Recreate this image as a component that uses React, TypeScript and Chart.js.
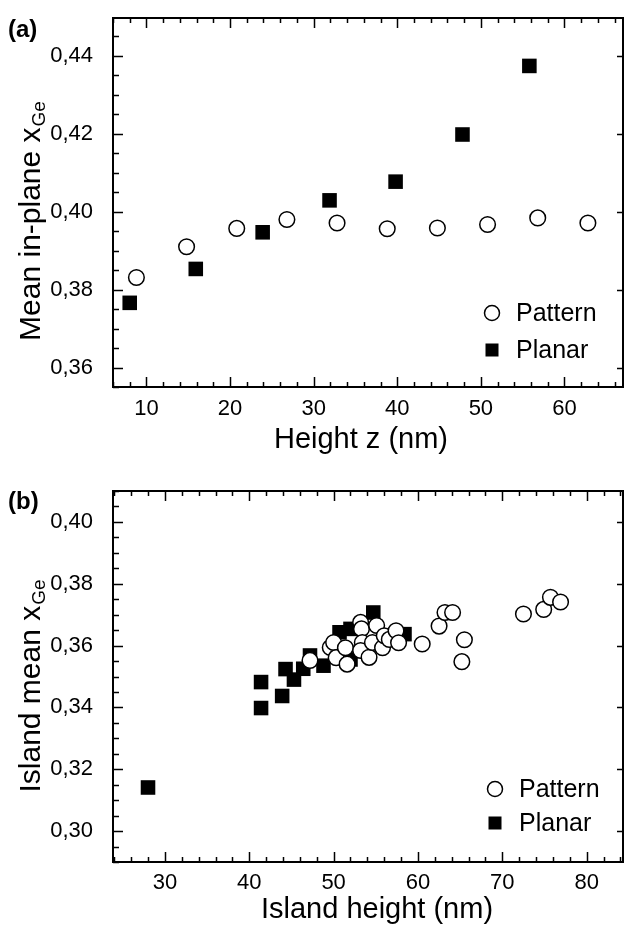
import React, { useEffect, useRef } from "react";
import { Chart, registerables } from "chart.js";
Chart.register(...registerables);

// ---------- Panel (a) data ----------
const aPatternHeight = [8.8, 14.8, 20.8, 26.8, 32.8, 38.8, 44.8, 50.8, 56.8, 62.8];
const aPatternXGe = [0.3831, 0.391, 0.3957, 0.398, 0.3971, 0.3956, 0.3958, 0.3967, 0.3984, 0.3971];
const aPlanarHeight = [8.0, 15.9, 23.9, 31.9, 39.8, 47.8, 55.8];
const aPlanarXGe = [0.3766, 0.3853, 0.3947, 0.4029, 0.4077, 0.4198, 0.4374];
const aXTicks = [10, 20, 30, 40, 50, 60];
const aYTicks = [0.36, 0.38, 0.4, 0.42, 0.44];

// ---------- Panel (b) data ----------
const bPatternHeight = [
  47.2, 49.6, 50.0, 50.3, 51.4, 51.6, 53.2, 53.3, 53.4, 53.2, 54.2, 54.6, 55.1, 55.8,
  56.0, 56.6, 57.4, 57.7, 60.5, 62.5, 63.2, 64.1, 65.5, 65.2, 72.5, 74.9, 75.7, 76.9,
];
const bPatternXGe = [
  0.3552, 0.3594, 0.361, 0.3561, 0.3593, 0.354, 0.3675, 0.3654, 0.361, 0.3584, 0.3562, 0.361,
  0.3665, 0.3593, 0.3632, 0.362, 0.3648, 0.3609, 0.3605, 0.3663, 0.3707, 0.3707, 0.3619, 0.3548,
  0.3702, 0.3717, 0.3756, 0.3741,
];
const bPlanarHeight = [28.0, 41.4, 41.4, 43.9, 44.3, 45.3, 46.4, 47.2, 48.8, 50.7, 52.0, 52.0, 54.7, 58.4];
const bPlanarXGe = [
  0.3141, 0.3482, 0.3398, 0.3437, 0.3524, 0.349, 0.3525, 0.3568, 0.3535, 0.3643, 0.3654, 0.3555,
  0.3707, 0.3637,
];
const bXTicks = [30, 40, 50, 60, 70, 80];
const bYTicks = [0.3, 0.32, 0.34, 0.36, 0.38, 0.4];

const seriesNames = ["Pattern", "Planar"];

const FONT = "'Liberation Sans', Arial, Helvetica, sans-serif";

type Panel = {
  label: string;
  xTitle: string;
  yTitleMain: string;
  yTitleSub: string;
  patternX: number[];
  patternY: number[];
  planarX: number[];
  planarY: number[];
  xTicks: number[];
  yTicks: number[];
  xMin: number;
  xMax: number;
  yMin: number;
  yMax: number;
  xMinor: number;
  yMinor: number;
  canvasH: number;
  padTop: number;
  xAxisH: number;
  xTickPad: number;
  xTitleCX: number;
  xTitleCY: number;
  yTitleCY: number;
  labelY: number;
  legendX: number;
  legendY: number;
  legendGap: number;
};

const panelA: Panel = {
  label: "(a)",
  xTitle: "Height z (nm)",
  yTitleMain: "Mean in-plane x",
  yTitleSub: "Ge",
  patternX: aPatternHeight,
  patternY: aPatternXGe,
  planarX: aPlanarHeight,
  planarY: aPlanarXGe,
  xTicks: aXTicks,
  yTicks: aYTicks,
  xMin: 6,
  xMax: 67,
  yMin: 0.355,
  yMax: 0.4497,
  xMinor: 2,
  yMinor: 0.005,
  canvasH: 465,
  padTop: 18,
  xAxisH: 78,
  xTickPad: 9,
  xTitleCX: 361,
  xTitleCY: 440,
  yTitleCY: 221,
  labelY: 30,
  legendX: 492,
  legendY: 313,
  legendGap: 37,
};

const panelB: Panel = {
  label: "(b)",
  xTitle: "Island height (nm)",
  yTitleMain: "Island mean x",
  yTitleSub: "Ge",
  patternX: bPatternHeight,
  patternY: bPatternXGe,
  planarX: bPlanarHeight,
  planarY: bPlanarXGe,
  xTicks: bXTicks,
  yTicks: bYTicks,
  xMin: 23.85,
  xMax: 84.3,
  yMin: 0.29,
  yMax: 0.41,
  xMinor: 2,
  yMinor: 0.005,
  canvasH: 466,
  padTop: 26,
  xAxisH: 69,
  xTickPad: 8,
  xTitleCX: 377,
  xTitleCY: 445,
  yTitleCY: 221,
  labelY: 37,
  legendX: 495,
  legendY: 324,
  legendGap: 34,
};

function makeDecor(p: Panel) {
  return {
    id: "decor" + p.label,
    afterDraw(chart: any) {
      const { ctx, chartArea: a, scales } = chart;
      const xs = scales.x;
      const ys = scales.y;
      ctx.save();
      ctx.strokeStyle = "#000";
      ctx.fillStyle = "#000";
      // frame
      ctx.lineWidth = 2;
      ctx.strokeRect(a.left, a.top, a.right - a.left, a.bottom - a.top);
      ctx.lineWidth = 1.5;
      ctx.beginPath();
      const isMajor = (v: number, list: number[]) => list.some((t) => Math.abs(t - v) < 1e-6);
      // x ticks (bottom & top)
      const nx = Math.round((p.xMax - p.xMin) / p.xMinor) + 2;
      const x0 = Math.ceil(p.xMin / p.xMinor - 1e-9) * p.xMinor;
      for (let i = 0; i < nx; i++) {
        const v = x0 + i * p.xMinor;
        if (v > p.xMax) break;
        const px = Math.round(xs.getPixelForValue(v)) + 0.5;
        const len = isMajor(v, p.xTicks) ? 10 : 5;
        ctx.moveTo(px, a.bottom);
        ctx.lineTo(px, a.bottom - len);
        ctx.moveTo(px, a.top);
        ctx.lineTo(px, a.top + len);
      }
      // y ticks (left minor+major, right major)
      const ny = Math.round((p.yMax - p.yMin) / p.yMinor) + 2;
      const y0 = Math.ceil(p.yMin / p.yMinor - 1e-9) * p.yMinor;
      for (let i = 0; i < ny; i++) {
        const v = y0 + i * p.yMinor;
        if (v > p.yMax + 1e-9) break;
        const py = Math.round(ys.getPixelForValue(v)) + 0.5;
        const major = isMajor(v, p.yTicks);
        const len = major ? 10 : 6;
        ctx.moveTo(a.left, py);
        ctx.lineTo(a.left + len, py);
        if (major) {
          ctx.moveTo(a.right, py);
          ctx.lineTo(a.right - 6, py);
        }
      }
      ctx.stroke();

      // panel label
      ctx.font = `bold 24px ${FONT}`;
      ctx.textAlign = "left";
      ctx.textBaseline = "middle";
      ctx.fillText(p.label, 8, p.labelY);

      // x title
      ctx.font = `29px ${FONT}`;
      ctx.textAlign = "center";
      ctx.textBaseline = "middle";
      ctx.fillText(p.xTitle, p.xTitleCX, p.xTitleCY);

      // y title with subscript
      const mainFont = `30px ${FONT}`;
      const subFont = `19px ${FONT}`;
      ctx.font = mainFont;
      const wMain = ctx.measureText(p.yTitleMain).width;
      ctx.font = subFont;
      const wSub = ctx.measureText(p.yTitleSub).width;
      const total = wMain + wSub + 1;
      ctx.save();
      ctx.translate(40, p.yTitleCY);
      ctx.rotate(-Math.PI / 2);
      ctx.textAlign = "left";
      ctx.textBaseline = "alphabetic";
      ctx.font = mainFont;
      ctx.fillText(p.yTitleMain, -total / 2, 0);
      ctx.font = subFont;
      ctx.fillText(p.yTitleSub, -total / 2 + wMain + 1, 5);
      ctx.restore();

      // legend
      const lx = p.legendX;
      const ly = p.legendY;
      ctx.lineWidth = 1.5;
      ctx.beginPath();
      ctx.arc(lx, ly, 7.5, 0, Math.PI * 2);
      ctx.fillStyle = "#fff";
      ctx.fill();
      ctx.stroke();
      ctx.fillStyle = "#000";
      ctx.fillRect(lx - 6.5, ly + p.legendGap - 6.5, 13, 13);
      ctx.font = `25px ${FONT}`;
      ctx.textAlign = "left";
      ctx.textBaseline = "middle";
      ctx.fillText(seriesNames[0], lx + 24, ly + 1);
      ctx.fillText(seriesNames[1], lx + 24, ly + p.legendGap + 1);
      ctx.restore();
    },
  };
}

function makeChart(canvas: HTMLCanvasElement, p: Panel) {
  return new Chart(canvas, {
    type: "scatter",
    data: {
      datasets: [
        {
          label: seriesNames[0],
          data: p.patternX.map((x, i) => ({ x, y: p.patternY[i] })),
          pointStyle: "circle",
          pointRadius: 7.8,
          pointHoverRadius: 7.8,
          pointBackgroundColor: "#fff",
          pointBorderColor: "#000",
          pointBorderWidth: 1.5,
        },
        {
          label: seriesNames[1],
          data: p.planarX.map((x, i) => ({ x, y: p.planarY[i] })),
          pointStyle: "rect",
          pointRadius: 10.3,
          pointHoverRadius: 10.3,
          pointBackgroundColor: "#000",
          pointBorderColor: "#000",
          pointBorderWidth: 0,
        },
      ],
    },
    options: {
      animation: false,
      responsive: false,
      devicePixelRatio: 1,
      events: [],
      layout: { autoPadding: false, padding: { left: 0, right: 2, top: p.padTop, bottom: 0 } },
      plugins: { legend: { display: false }, tooltip: { enabled: false } },
      scales: {
        x: {
          type: "linear",
          min: p.xMin,
          max: p.xMax,
          afterBuildTicks: (s: any) => {
            s.ticks = p.xTicks.map((v) => ({ value: v }));
          },
          afterFit: (s: any) => {
            s.height = p.xAxisH;
            s.paddingLeft = 0;
            s.paddingRight = 0;
            s.paddingTop = 0;
            s.paddingBottom = 0;
          },
          grid: { display: false, drawTicks: false },
          border: { display: false },
          ticks: {
            padding: p.xTickPad,
            color: "#000",
            font: { family: FONT, size: 22 },
            maxRotation: 0,
            autoSkip: false,
            callback: (v: any) => String(v),
          },
          title: { display: false },
        },
        y: {
          type: "linear",
          min: p.yMin,
          max: p.yMax,
          afterBuildTicks: (s: any) => {
            s.ticks = p.yTicks.map((v) => ({ value: v }));
          },
          afterFit: (s: any) => {
            s.width = 113;
            s.paddingLeft = 0;
            s.paddingRight = 0;
            s.paddingTop = 0;
            s.paddingBottom = 0;
          },
          grid: { display: false, drawTicks: false },
          border: { display: false },
          ticks: {
            padding: 20,
            color: "#000",
            font: { family: FONT, size: 22 },
            autoSkip: false,
            callback: (v: any) => Number(v).toFixed(2).replace(".", ","),
          },
        },
      },
    },
    plugins: [makeDecor(p)],
  });
}

export default function App() {
  const refA = useRef<HTMLCanvasElement>(null);
  const refB = useRef<HTMLCanvasElement>(null);
  useEffect(() => {
    const ca = makeChart(refA.current!, panelA);
    const cb = makeChart(refB.current!, panelB);
    return () => {
      ca.destroy();
      cb.destroy();
    };
  }, []);
  return (
    <div style={{ position: "absolute", left: 0, top: 0, width: 625, height: 931, background: "#fff" }}>
      <canvas ref={refA} width={625} height={panelA.canvasH} style={{ display: "block" }} />
      <canvas ref={refB} width={625} height={panelB.canvasH} style={{ display: "block" }} />
    </div>
  );
}
